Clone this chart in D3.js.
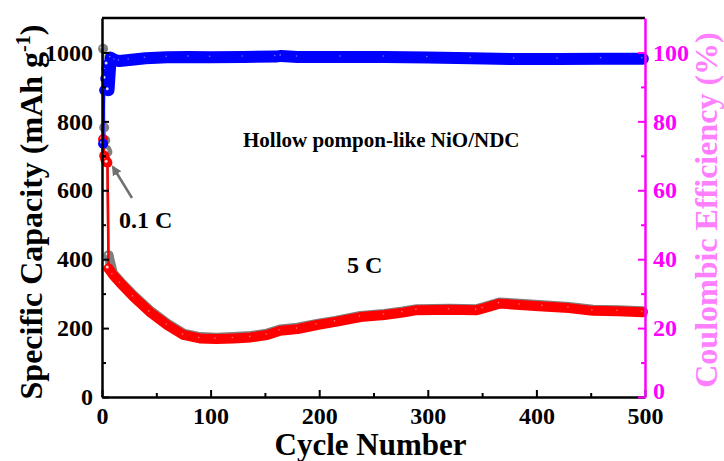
<!DOCTYPE html>
<html>
<head>
<meta charset="utf-8">
<script src="https://cdn.jsdelivr.net/npm/d3@7/dist/d3.min.js"></script>
<style>
  html, body { margin: 0; padding: 0; background: #fff; }
  svg text { font-family: "Liberation Serif", "Times New Roman", serif; font-weight: bold; }
</style>
</head>
<body>
<svg id="chart" width="724" height="461"></svg>
<script>
// Discharge capacity (grey), mAh g-1: 0.1 C activation cycles, then 5 C
const dischargeCycles = [1, 2, 3, 4, 5, 6, 10, 17, 29, 44, 60, 75, 90, 105, 121, 137, 152, 164, 180, 198, 215, 238, 260, 277, 290, 320, 345, 351, 366, 385, 406, 430, 452, 475, 498];
const dischargeValues = [1011, 782, 745, 718, 711, 411, 359, 334, 295, 251, 213, 184, 174, 172, 174, 177, 184, 196, 201, 212, 221, 235, 241, 248, 255, 256, 255, 260, 274, 271, 266, 261, 253, 252, 249];

// Charge capacity (red), mAh g-1
const chargeCycles = [1, 2, 3, 4, 5, 6, 10, 17, 29, 44, 60, 75, 90, 105, 121, 137, 152, 164, 180, 198, 215, 238, 260, 277, 290, 320, 345, 351, 366, 385, 406, 430, 452, 475, 498];
const chargeValues = [748, 700, 690, 684, 680, 373, 355, 330, 291, 247, 209, 180, 170, 168, 170, 173, 180, 192, 197, 209, 218, 232, 238, 245, 252, 253, 252, 257, 271, 267, 263, 258, 250, 249, 246];

// Coulombic efficiency (blue), %
const ceCycles = [1, 2, 3, 4, 5, 6, 8, 12, 16, 25, 40, 60, 80, 100, 130, 160, 165, 180, 220, 260, 300, 340, 380, 420, 460, 498];
const ceValues = [73.5, 89, 92.4, 95.3, 96.5, 89, 98.5, 97.8, 97.5, 97.8, 98.3, 98.6, 98.7, 98.6, 98.7, 98.8, 99.0, 98.7, 98.7, 98.7, 98.5, 98.3, 98.1, 98.1, 98.2, 98.2];

// Axis ticks
const xTicks = [0, 100, 200, 300, 400, 500];
const xMinor = [50, 150, 250, 350, 450];
const yLeftTicks = [0, 200, 400, 600, 800, 1000];
const yLeftMinor = [100, 300, 500, 700, 900];
const yRightTicks = [0, 20, 40, 60, 80, 100];
const yRightMinor = [10, 30, 50, 70, 90];

const activationCycles = 5; // cycles run at 0.1 C before switching to 5 C

const svg = d3.select("#chart");
const M = { left: 102, right: 645, top: 18, bottom: 397 };

const x = d3.scaleLinear().domain([0, 500]).range([M.left, M.right]);
const yL = d3.scaleLinear().domain([0, 1100]).range([M.bottom, M.top]);
const yR = d3.scaleLinear().domain([0, 110]).range([M.bottom, M.top]);

const MAGENTA = "#ff00ff";

const pts = (cs, vs) => cs.map((c, i) => ({ c, v: vs[i] }));
const discharge = pts(dischargeCycles, dischargeValues);
const charge = pts(chargeCycles, chargeValues);
const ce = pts(ceCycles, ceValues);

const early = d => d.c <= activationCycles + 1;
const late = d => d.c > activationCycles;

const g = svg.append("g");

function drawSeries(data, yScale, color, bandWidth) {
  const line = d3.line().x(d => x(d.c)).y(d => yScale(d.v));
  // thin connector through the activation cycles
  g.append("path").datum(data.filter(early))
    .attr("d", line).attr("fill", "none").attr("stroke", color).attr("stroke-width", 2.5);
  // dense band of overlapping markers during 5 C cycling
  g.append("path").datum(data.filter(late))
    .attr("d", line).attr("fill", "none").attr("stroke", color)
    .attr("stroke-width", bandWidth).attr("stroke-linecap", "round").attr("stroke-linejoin", "round");
  // faint speckled highlights on the band
  g.append("g").selectAll("circle").data(data.filter(late)).join("circle")
    .attr("cx", d => x(d.c) - 1).attr("cy", d => yScale(d.v) - 1)
    .attr("r", 0.8).attr("fill", "#fff").attr("opacity", 0.45);
  // ball markers for the activation cycles
  const balls = g.append("g").selectAll("g").data(data.filter(early)).join("g")
    .attr("transform", d => `translate(${x(d.c)},${yScale(d.v)})`);
  balls.append("circle").attr("r", 5).attr("fill", color);
  balls.append("circle").attr("cx", -1.3).attr("cy", -1.5).attr("r", 1.5).attr("fill", "#fff").attr("opacity", 0.85);
}

// grey discharge first, then charge capacity, then efficiency
drawSeries(discharge, yL, "#808080", 10);
drawSeries(charge, yL, "#ff0000", 10);
drawSeries(ce, yR, "#0000ff", 12);

// Frame: top line
svg.append("line").attr("x1", M.left).attr("x2", M.right).attr("y1", M.top).attr("y2", M.top)
  .attr("stroke", "#000").attr("stroke-width", 2.5);

function styleAxis(sel, color) {
  sel.selectAll(".domain").attr("stroke", color).attr("stroke-width", 2.5);
  sel.selectAll(".tick line").attr("stroke", color).attr("stroke-width", 2);
  sel.selectAll(".tick text").attr("fill", color).attr("font-size", 24)
    .attr("font-family", "'Liberation Serif', 'Times New Roman', serif").attr("font-weight", "bold");
}

// Bottom axis
const xAx = svg.append("g").attr("transform", `translate(0,${M.bottom})`)
  .call(d3.axisBottom(x).tickValues(xTicks).tickSizeInner(-7).tickSizeOuter(0).tickPadding(10).tickFormat(d3.format("d")));
styleAxis(xAx, "#000");
xAx.selectAll(".tick text").attr("dy", "0.71em");
svg.append("g").attr("transform", `translate(0,${M.bottom})`)
  .call(d3.axisBottom(x).tickValues(xMinor).tickSizeInner(-4).tickSizeOuter(0).tickFormat(""))
  .call(s => { s.select(".domain").remove(); s.selectAll(".tick line").attr("stroke", "#000").attr("stroke-width", 2); });

// Left axis
const yAx = svg.append("g").attr("transform", `translate(${M.left},0)`)
  .call(d3.axisLeft(yL).tickValues(yLeftTicks).tickSizeInner(-7).tickSizeOuter(0).tickPadding(9).tickFormat(d3.format("d")));
styleAxis(yAx, "#000");
svg.append("g").attr("transform", `translate(${M.left},0)`)
  .call(d3.axisLeft(yL).tickValues(yLeftMinor).tickSizeInner(-4).tickSizeOuter(0).tickFormat(""))
  .call(s => { s.select(".domain").remove(); s.selectAll(".tick line").attr("stroke", "#000").attr("stroke-width", 2); });

// Right axis (efficiency)
const yRAx = svg.append("g").attr("transform", `translate(${M.right},0)`)
  .call(d3.axisRight(yR).tickValues(yRightTicks).tickSizeInner(-7).tickSizeOuter(0).tickPadding(8).tickFormat(d3.format("d")));
styleAxis(yRAx, MAGENTA);
yRAx.selectAll(".tick text").filter(d => d === 0).attr("dy", "0.05em");
svg.append("g").attr("transform", `translate(${M.right},0)`)
  .call(d3.axisRight(yR).tickValues(yRightMinor).tickSizeInner(-4).tickSizeOuter(0).tickFormat(""))
  .call(s => { s.select(".domain").remove(); s.selectAll(".tick line").attr("stroke", MAGENTA).attr("stroke-width", 2); });

// Axis titles
svg.append("text").attr("x", (M.left + M.right) / 2 - 3).attr("y", 455)
  .attr("text-anchor", "middle").attr("font-size", 31).attr("fill", "#000").text("Cycle Number");

const leftTitle = svg.append("text")
  .attr("transform", `translate(42,${212}) rotate(-90)`)
  .attr("text-anchor", "middle").attr("font-size", 32).attr("fill", "#000");
leftTitle.append("tspan").text("Specific Capacity (mAh g");
leftTitle.append("tspan").attr("font-size", 20).attr("dy", -12).text("-1");
leftTitle.append("tspan").attr("dy", 12).text(")");

svg.append("text")
  .attr("transform", `translate(717,${210}) rotate(-90)`)
  .attr("text-anchor", "middle").attr("font-size", 32).attr("fill", "#ff80ff")
  .text("Coulombic Efficiency (%)");

// Annotations
svg.append("text").attr("x", 243).attr("y", 147).attr("font-size", 21).attr("fill", "#000")
  .text("Hollow pompon-like NiO/NDC");
svg.append("text").attr("x", 119).attr("y", 228).attr("font-size", 24).attr("fill", "#000").text("0.1 C");
svg.append("text").attr("x", 347).attr("y", 273).attr("font-size", 24).attr("fill", "#000").text("5 C");

// Arrow pointing at the 0.1 C cycles
const defs = svg.append("defs");
defs.append("marker").attr("id", "arrowHead").attr("viewBox", "0 0 10 10")
  .attr("refX", 8).attr("refY", 5).attr("markerWidth", 4).attr("markerHeight", 4)
  .attr("orient", "auto").attr("markerUnits", "strokeWidth")
  .append("path").attr("d", "M0,0 L10,5 L0,10 Z").attr("fill", "#707070");
svg.append("line").attr("x1", 132).attr("y1", 198).attr("x2", 113).attr("y2", 167)
  .attr("stroke", "#707070").attr("stroke-width", 2.5).attr("marker-end", "url(#arrowHead)");
</script>
</body>
</html>
